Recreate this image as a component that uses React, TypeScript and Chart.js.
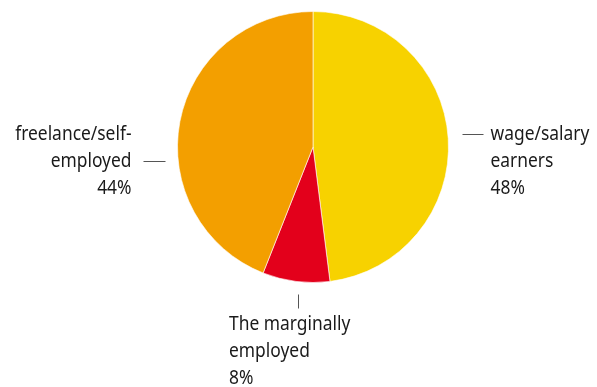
import React, { useEffect, useRef } from "react";
import { Chart, registerables } from "chart.js";
Chart.register(...registerables);

const categories = ["wage/salary earners", "The marginally employed", "freelance/self-employed"];
const labelLines = [["wage/salary", "earners"], ["The marginally", "employed"], ["freelance/self-", "employed"]];
const shares = [48, 8, 44];
const colors = ["#F7D200", "#E3001B", "#F39F00"];

const FONT = '20px "Noto Sans"';
const SX = 0.87;
const LH = 27;

function text(ctx: CanvasRenderingContext2D, t: string, x: number, y: number, align: CanvasTextAlign) {
  ctx.save();
  ctx.translate(x, y);
  ctx.scale(SX, 1);
  ctx.textAlign = align;
  ctx.fillText(t, 0, 0);
  ctx.restore();
}

const labelPlugin = {
  id: "pieLabels",
  afterDraw(chart: any) {
    const ctx = chart.ctx as CanvasRenderingContext2D;
    const meta = chart.getDatasetMeta(0);
    const arc0 = meta.data[0] as any;
    const cx = arc0.x, cy = arc0.y, r = arc0.outerRadius;
    ctx.save();
    ctx.font = FONT;
    ctx.fillStyle = "#1a1a1a";
    ctx.strokeStyle = "#555";
    ctx.lineWidth = 1;
    ctx.textBaseline = "middle";
    const lines = (i: number) => [...labelLines[i], shares[i] + "%"];
    // right label (wage)
    {
      const y0 = cy - 13;
      const x0 = cx + r + 42;
      ctx.beginPath();
      ctx.moveTo(cx + r + 14, y0 + 0.5);
      ctx.lineTo(cx + r + 35, y0 + 0.5);
      ctx.stroke();
      lines(0).forEach((t, k) => text(ctx, t, x0, y0 + k * LH, "left"));
    }
    // left label (freelance)
    {
      const yl = cy + 14;
      ctx.beginPath();
      ctx.moveTo(cx - r - 34, yl + 0.5);
      ctx.lineTo(cx - r - 12, yl + 0.5);
      ctx.stroke();
      const xr = cx - r - 46;
      lines(2).forEach((t, k) => text(ctx, t, xr, yl - LH + k * LH, "right"));
    }
    // bottom label (marginal)
    {
      const xv = cx - 15;
      ctx.beginPath();
      ctx.moveTo(xv + 0.5, cy + r + 12);
      ctx.lineTo(xv + 0.5, cy + r + 26);
      ctx.stroke();
      const xl = cx - 84;
      lines(1).forEach((t, k) => text(ctx, t, xl, cy + r + 42 + k * LH, "left"));
    }
    ctx.restore();
  },
};

export default function App() {
  const ref = useRef<HTMLCanvasElement>(null);
  useEffect(() => {
    document.body.style.margin = "0";
    const chart = new Chart(ref.current!, {
      type: "pie",
      data: {
        labels: categories,
        datasets: [{ data: shares, backgroundColor: colors, borderColor: "rgba(255,255,255,0.6)", borderWidth: 1 }],
      },
      options: {
        responsive: false,
        animation: false,
        layout: { padding: { top: 11, bottom: 104, left: 177, right: 148 } },
        plugins: { legend: { display: false }, tooltip: { enabled: false } },
      },
      plugins: [labelPlugin],
    });
    return () => chart.destroy();
  }, []);
  return (
    <div style={{ width: 597, height: 387, background: "#fff" }}>
      <canvas ref={ref} width={597} height={387} />
    </div>
  );
}
